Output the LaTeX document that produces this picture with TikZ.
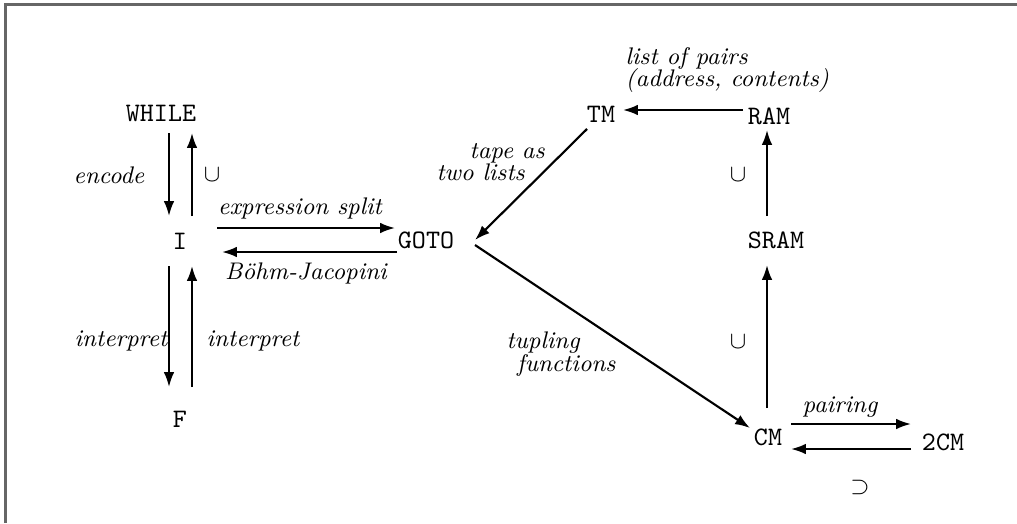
\documentclass[tikz,border=0pt]{standalone}
\usepackage{tikz}
\usetikzlibrary{arrows.meta, positioning, calc}

\begin{document}
\begin{tikzpicture}[
    x=0.3745pt, y=-0.3745pt,
    prog/.style={font=\ttfamily, inner sep=0pt},
    lbl/.style={font=\small\itshape, inner sep=0pt},
    rel/.style={font=\small, inner sep=0pt},
    arrow/.style={-{Latex[length=5.6pt, width=4pt]}, thick}
]
    \useasboundingbox (0,0) rectangle (1017,523);
    % Frame
    \draw[black!60, line width=0.8pt] (5.5,523) -- (5.5,4.5) -- (1017,4.5);

    % Programs
    \node[prog] (whilep) at (161,113) {WHILE};
    \node[prog] (ilang) at (180,241) {I};
    \node[prog] (flang) at (180,419) {F};
    \node[prog] (gotop) at (426,240) {GOTO};
    \node[prog] (tm) at (601,114) {TM};
    \node[prog] (ram) at (769,116) {RAM};
    \node[prog] (sram) at (776,240) {SRAM};
    \node[prog] (cm) at (768,437) {CM};
    \node[prog] (twocm) at (943,442) {2CM};

    % Labels
    \node[lbl] (encode) at (109,175) {encode};
    \node[rel] (cupwhile) at (212,175) {$\cup$};
    \node[lbl] (exprsplit) at (300,208) {expression split};
    \node[lbl] (bohm) at (306,273) {Böhm-Jacopini};
    \node[lbl] (interpl) at (121,341) {interpret};
    \node[lbl] (interpr) at (253,341) {interpret};
    \node[lbl, align=left, anchor=west] (tape) at (436,162) {\hspace*{12.4pt}tape as\\[-2.5pt]two lists};
    \node[lbl, align=left, anchor=west] (pairs) at (625,70) {list of pairs\\[-2.5pt](address, contents)};
    \node[lbl, align=left, anchor=west] (tupling) at (506,354) {tupling\\[-2.5pt]\hspace*{4pt}functions};
    \node[lbl] (pairing) at (840,407) {pairing};
    \node[rel] (cupram) at (738,175) {$\cup$};
    \node[rel] (cupsram) at (738,342) {$\cup$};
    \node[rel] (supcm) at (860,487) {$\supset$};

    % Arrows
    \draw[arrow] ($(whilep)+(8,20)$) -- ($(ilang)+(-11,-25)$);
    \draw[arrow] ($(ilang)+(12,-25)$) -- ($(whilep)+(31,20)$);
    \draw[arrow] ($(ilang)+(-11,25)$) -- ($(flang)+(-11,-32)$);
    \draw[arrow] ($(flang)+(12,-32)$) -- ($(ilang)+(12,25)$);
    \draw[arrow] ($(ilang)+(37,-13)$) -- ($(gotop)+(-31,-12)$);
    \draw[arrow] ($(gotop)+(-29,12)$) -- ($(ilang)+(42,11)$);
    \draw[arrow] ($(ram)+(-26,-6)$) -- ($(tm)+(22,-4)$);
    \draw[arrow] ($(tm)+(-14,15)$) -- ($(gotop)+(49,0)$);
    \draw[arrow] ($(gotop)+(49,5)$) -- ($(cm)+(-18,-9)$);
    \draw[arrow] ($(cm)+(-1,-29)$) -- ($(sram)+(-9,25)$);
    \draw[arrow] ($(sram)+(-9,-24)$) -- ($(ram)+(-2,14)$);
    \draw[arrow] ($(cm)+(23,-13)$) -- ($(twocm)+(-32,-18)$);
    \draw[arrow] ($(twocm)+(-32,7)$) -- ($(cm)+(23,12)$);
\end{tikzpicture}
\end{document}
